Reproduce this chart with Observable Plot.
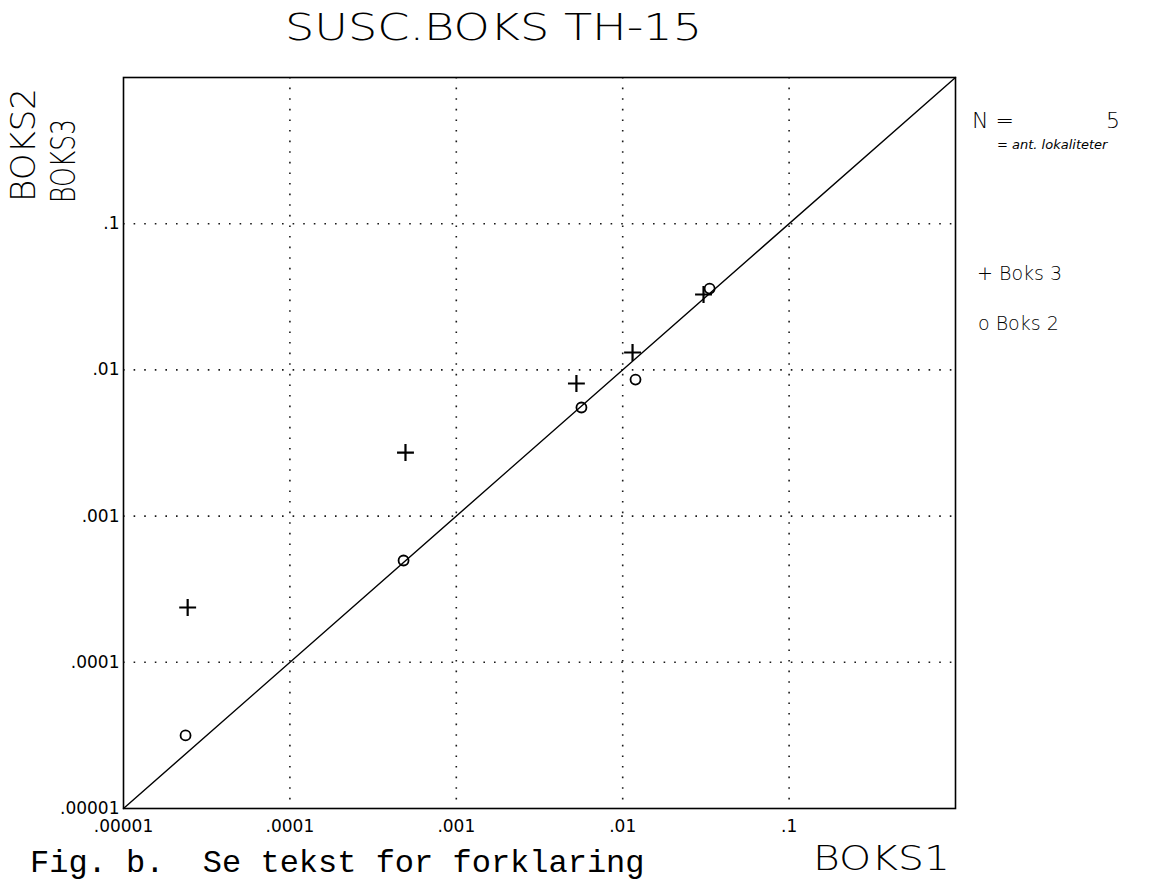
<!DOCTYPE html>
<html>
<head>
<meta charset="utf-8">
<script src="https://cdn.jsdelivr.net/npm/d3@7"></script>
<script src="https://cdn.jsdelivr.net/npm/@observablehq/plot@0.6"></script>
<style>
  body { margin: 0; background: white; }
  #chart { position: relative; width: 1159px; height: 881px; overflow: hidden; }
</style>
</head>
<body>
<div id="chart"></div>
<script>
// ---- data ----
const tickValues = [1e-5, 1e-4, 1e-3, 1e-2, 1e-1];
const tickLabels = [".00001", ".0001", ".001", ".01", ".1"];
const gridValues = [1e-4, 1e-3, 1e-2, 1e-1];
const diagonal = [1e-5, 1];

// Boks 3 (+) against Boks 1
const boks1ForBoks3 = [2.43e-5, 4.95e-4, 5.27e-3, 0.01146, 0.0306];
const boks3 = [2.37e-4, 2.72e-3, 8.07e-3, 0.01315, 0.0328];
// Boks 2 (o) against Boks 1
const boks1ForBoks2 = [2.36e-5, 4.82e-4, 5.65e-3, 0.01194, 0.0333];
const boks2 = [3.16e-5, 4.97e-4, 5.53e-3, 8.59e-3, 0.036];

const N = 5;

// ---- build tables ----
const plusData = boks3.map((y, i) => ({x: boks1ForBoks3[i], y}));
const circData = boks2.map((y, i) => ({x: boks1ForBoks2[i], y}));
const diagData = diagonal.map(v => ({x: v, y: v}));
const labelFor = d => tickLabels[tickValues.indexOf(d)];

const FONT = "DejaVu Sans";

const svg = Plot.plot({
  width: 1159,
  height: 881,
  marginLeft: 123,
  marginRight: 204,
  marginTop: 77,
  marginBottom: 73,
  style: {fontFamily: FONT, background: "white", color: "black"},
  x: {type: "log", domain: [1e-5, 1]},
  y: {type: "log", domain: [1e-5, 1]},
  marks: [
    Plot.ruleX(gridValues, {stroke: "black", strokeWidth: 1.6, strokeDasharray: "1.6,9", strokeOpacity: 0.9}),
    Plot.ruleY(gridValues, {stroke: "black", strokeWidth: 1.6, strokeDasharray: "1.6,9", strokeOpacity: 0.9}),
    Plot.line(diagData, {x: "x", y: "y", stroke: "black", strokeWidth: 1.4}),
    Plot.dot(plusData, {x: "x", y: "y", symbol: "plus", r: 5.5, stroke: "black", strokeWidth: 2.2}),
    Plot.dot(circData, {x: "x", y: "y", symbol: "circle", r: 5, stroke: "black", strokeWidth: 1.8, fill: "none"}),
    Plot.axisX(tickValues, {tickSize: 0, tickPadding: 11, tickFormat: labelFor, fontSize: 17, label: null}),
    Plot.axisY(tickValues, {tickSize: 0, tickPadding: 4, tickFormat: labelFor, fontSize: 17, label: null}),
    Plot.frame({stroke: "black", strokeWidth: 1.6})
  ]
});

document.getElementById("chart").appendChild(svg);

// ---- text annotations ----
const s = d3.select(svg);
function addText(txt, x, y, opts = {}) {
  const t = s.append("text")
    .attr("x", x).attr("y", y)
    .attr("font-family", opts.family || FONT)
    .attr("font-size", opts.size || 20)
    .attr("font-weight", opts.weight || 300)
    .attr("fill", "black")
    .attr("text-anchor", opts.anchor || "start")
    .attr("xml:space", "preserve")
    .style("white-space", "pre")
    .text(txt);
  if (opts.italic) t.attr("font-style", "italic");
  if (opts.length) t.attr("textLength", opts.length).attr("lengthAdjust", "spacingAndGlyphs");
  if (opts.transform) t.attr("transform", opts.transform);
  return t;
}

addText("SUSC.BOKS TH-15", 285, 40, {size: 38, weight: 200, length: 417});
addText("BOKS2", 0, 0, {size: 34, weight: 200, length: 114, transform: "translate(35,202) rotate(-90)"});
addText("BOKS3", 0, 0, {size: 34, weight: 200, length: 84, transform: "translate(75,203) rotate(-90)"});
addText("BOKS1", 813, 870, {size: 34, weight: 200, length: 137});
addText("Fig. b.  Se tekst for forklaring", 30, 872, {family: "Liberation Mono", size: 32, weight: 400});
addText("N =", 972, 128, {size: 22, weight: 200});
addText(String(N), 1106, 128, {size: 22, weight: 200});
addText("= ant. lokaliteter", 997, 149, {size: 13, weight: 300, italic: true});
addText("+ Boks 3", 977, 280, {size: 19, weight: 200});
addText("o Boks 2", 978, 330, {size: 19, weight: 200});
</script>
</body>
</html>
